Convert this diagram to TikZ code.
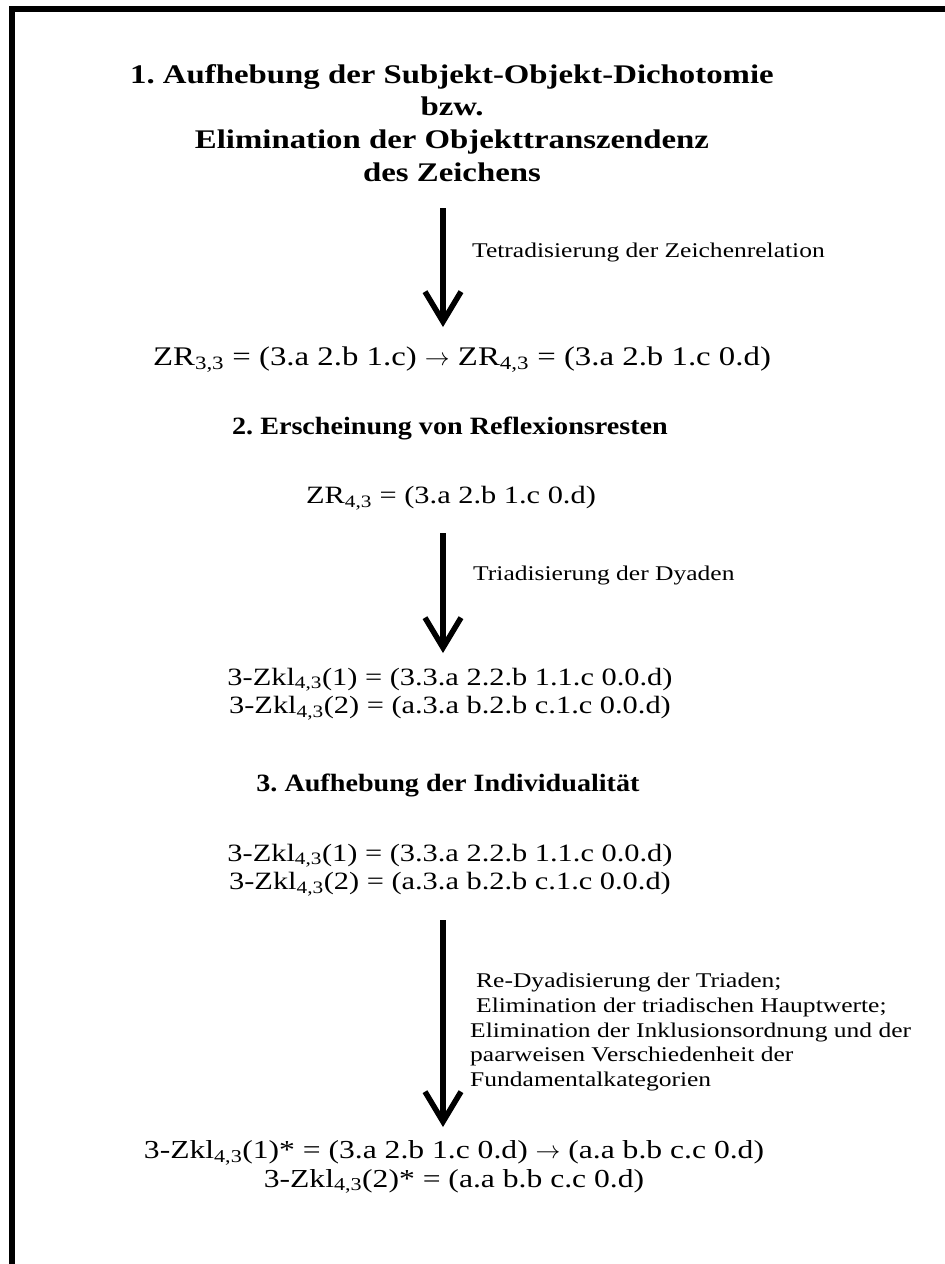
\documentclass[tikz,border=0pt]{standalone}
\usepackage{fontspec}
\setmainfont{Liberation Serif}[FakeStretch=1.22]
\newfontfamily\headfont{Liberation Serif}[FakeStretch=1.13]
\usetikzlibrary{arrows.meta, positioning}
\frenchspacing

\begin{document}
\begin{tikzpicture}[
    x=1bp, y=-1bp,
    font=\fontsize{25}{29}\selectfont,
    title/.style={font=\fontsize{27}{33}\selectfont\bfseries,
                  align=center, inner sep=0pt},
    heading/.style={font=\headfont\fontsize{25}{28}\selectfont\bfseries,
                    align=center, inner sep=0pt},
    formula/.style={align=center, inner sep=0pt},
    note/.style={font=\fontsize{21}{25}\selectfont, align=left,
                 anchor=west, inner sep=0pt},
    flow/.style={-{Straight Barb[length=30bp,width=36bp]}, line width=5.5bp},
]

\useasboundingbox (0,0) rectangle (945,1264);
\clip (0,0) rectangle (945,1264);
\draw[line width=6bp] (11.5,9) rectangle (1000,1300);

% --- 1. Subjekt-Objekt ---
\node[title] (ttl1) at (452,123) {1. Aufhebung der Subjekt-Objekt-Dichotomie\\
    bzw.\\ Elimination der Objekttranszendenz\\ des Zeichens};

\coordinate (a1s) at (443,208);
\coordinate (a1e) at (443,327);
\draw[flow] (a1s) -- (a1e);
\node[note] (lab1) at (472,252) {Tetradisierung der Zeichenrelation};

\node[formula, font=\fontsize{27}{29}\selectfont] (zr1) at (462,360)
    {ZR\textsubscript{3,3} = (3.a 2.b 1.c) $\rightarrow$ ZR\textsubscript{4,3} = (3.a 2.b 1.c 0.d)};

% --- 2. Reflexionsreste ---
\node[heading] (ttl2) at (450,428) {2. Erscheinung von Reflexionsresten};
\node[formula] (zr2) at (451,498) {ZR\textsubscript{4,3} = (3.a 2.b 1.c 0.d)};

\coordinate (a2s) at (443,533);
\coordinate (a2e) at (443,653);
\draw[flow] (a2s) -- (a2e);
\node[note] (lab2) at (473,575) {Triadisierung der Dyaden};

\node[formula] (zkl1) at (450,694) {3-Zkl\textsubscript{4,3}(1) = (3.3.a 2.2.b 1.1.c 0.0.d)\\
    3-Zkl\textsubscript{4,3}(2) = (a.3.a b.2.b c.1.c 0.0.d)};

% --- 3. Individualitaet ---
\node[heading] (ttl3) at (448,785) {3. Aufhebung der Individualität};
\node[formula] (zkl2) at (450,870) {3-Zkl\textsubscript{4,3}(1) = (3.3.a 2.2.b 1.1.c 0.0.d)\\
    3-Zkl\textsubscript{4,3}(2) = (a.3.a b.2.b c.1.c 0.0.d)};

\coordinate (a3s) at (443,920);
\coordinate (a3e) at (443,1127);
\draw[flow] (a3s) -- (a3e);
\node[note] (lab3) at (470,1032) {\hspace{6bp}Re-Dyadisierung der Triaden;\\
    \hspace{6bp}Elimination der triadischen Hauptwerte;\\
    Elimination der Inklusionsordnung und der\\
    paarweisen Verschiedenheit der\\
    Fundamentalkategorien};

\node[formula, font=\fontsize{26}{29}\selectfont] (zkl3) at (454,1167)
    {3-Zkl\textsubscript{4,3}(1)* = (3.a 2.b 1.c 0.d) $\rightarrow$ (a.a b.b c.c 0.d)\\
    3-Zkl\textsubscript{4,3}(2)* = (a.a b.b c.c 0.d)};

\end{tikzpicture}
\end{document}
